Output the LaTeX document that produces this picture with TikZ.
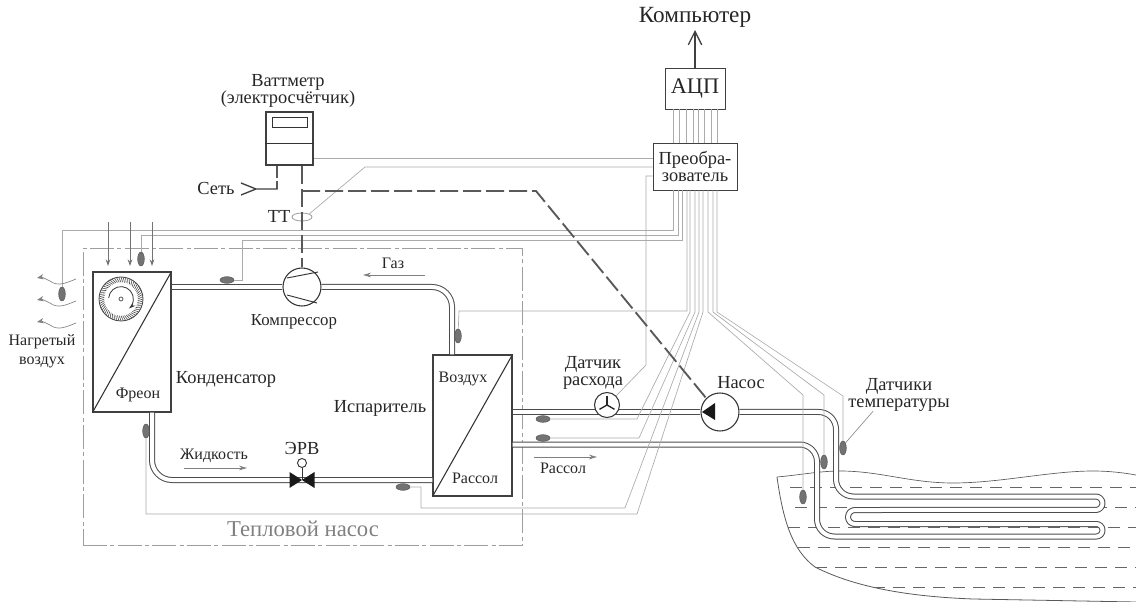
\documentclass[tikz,border=0pt]{standalone}
\usepackage{fontspec}
\setmainfont{Liberation Serif}
\usetikzlibrary{arrows.meta,shapes.geometric}
\tikzset{
  pipe/.style={draw=black!70,line width=0.75pt,double=white,double distance=3pt},
  wire/.style={draw=black!33,line width=0.5pt},
  power/.style={draw=black!65,line width=1.4pt,dash pattern=on 13.5pt off 3.75pt},
  sensorv/.style={ellipse,fill=black!55,draw=black!70,line width=0.3pt,minimum width=5pt,minimum height=10.5pt,inner sep=0pt},
  sensorh/.style={ellipse,fill=black!55,draw=black!70,line width=0.3pt,minimum width=10.5pt,minimum height=5pt,inner sep=0pt},
  box/.style={draw=black!75,line width=0.8pt,inner sep=0pt,align=center},
  disc/.style={circle,draw=black!80,line width=0.8pt,fill=white,inner sep=0pt},
  lab/.style={text=black!85,font=\fontsize{13.8}{12.75}\selectfont,align=center,inner sep=0pt},
  small/.style={text=black!85,font=\fontsize{12}{12.75}\selectfont,align=center,inner sep=0pt},
  flowarrow/.style={draw=black!50,line width=0.7pt,-{Stealth[length=6pt,width=3.5pt]}},
}
\begin{document}
\begin{tikzpicture}[x=0.75pt,y=-0.75pt]
\useasboundingbox (0,0) rectangle (1136,602);
% water
\draw[draw=black!65,line width=0.5pt] (777,477) .. controls (800,475) and (820,471) .. (840,471)
  .. controls (880,471) and (910,483) .. (953,483) .. controls (1000,483) and (1050,471) .. (1093,471)
  .. controls (1110,471) and (1125,473) .. (1136,475);
\draw[draw=black!65,line width=0.6pt] (777,477) .. controls (783,520) and (792,550) .. (815,567)
  .. controls (860,590) and (920,597) .. (973,599) -- (1136,602);
\foreach \x/\y in {790/487,795/507,788/527,798/547,815/567,873/587}
  \draw[draw=black!60,line width=0.6pt,dash pattern=on 9pt off 6pt] (\x,\y) -- (1136,\y);
% frame
\node[draw=black!38,line width=0.65pt,dash pattern=on 18pt off 2.5pt on 3pt off 2.5pt,minimum width=329.25pt,minimum height=222.75pt,inner sep=0pt] (hp) at (302.5,396.5) {};
\node[text=black!50,font=\fontsize{17}{16}\selectfont,inner sep=0pt] (hplab) at (303,529) {Тепловой насос};
% units
\node[box,minimum width=58.5pt,minimum height=105pt] (cond) at (132,342) {};
\node[box,minimum width=59.25pt,minimum height=105.75pt] (evap) at (472.5,425.5) {};
\node[box,minimum width=35.25pt,minimum height=39.75pt] (watt) at (289.5,138.5) {};
\node[box,line width=0.7pt,minimum width=45pt,minimum height=30.75pt,font=\fontsize{16.7}{16}\selectfont,text=black!85] (adc) at (695,88.5) {АЦП};
\node[box,line width=0.7pt,minimum width=63pt,minimum height=35.25pt,font=\fontsize{13.8}{12.75}\selectfont,text=black!85] (conv) at (695,166.5) {Преобра-\\зователь};
\node[disc,minimum size=28.5pt] (comp) at (302,287) {};
\node[disc,minimum size=28.5pt] (pump) at (720,412) {};
\coordinate (valve) at (302,480);
\draw[draw=black!80,line width=0.8pt] (cond.south west) -- (cond.north east);
\draw[draw=black!80,line width=0.8pt] (evap.south west) -- (evap.north east);
\draw[draw=black!80,line width=0.7pt] (watt.west |- 0,143) -- (watt.east |- 0,143);
\draw[draw=black!80,line width=0.7pt] (272,117) rectangle (307,127);
% pipes
\draw[pipe] (cond.east |- comp) -- (comp.west);
\draw[pipe,rounded corners=15pt] (comp.east) -- (452,287) -- (452,0 |- evap.north);
\draw[pipe,rounded corners=15pt] (152,0 |- cond.south) -- (152,480) -- (evap.west |- valve);
\draw[pipe] (evap.east |- pump) -- (pump.west);
\draw[pipe,line join=round] (pump.east) [rounded corners=13pt] -- (836,412) -- (836,496.5) [sharp corners] -- (1095.75,496.5)
  arc[start angle=90,end angle=-90,radius=5.06pt] -- (855,510)
  arc[start angle=90,end angle=270,radius=5.25pt] -- (1096.25,524)
  arc[start angle=90,end angle=-90,radius=4.7pt] [rounded corners=13pt] -- (817,536.5) -- (817,444.5) -- (evap.east |- 0,444.5);
% compressor, pump, valve, flow meter
\draw[draw=black!80,line width=0.7pt] (287,278) -- (318,272) (287,295) -- (317,303);
\fill[black!90] (702,412) -- (715,403) -- (715,420) -- cycle;
\fill[black!90] (valve) -- (289.5,472) -- (289.5,488) -- (314.5,472) -- (314.5,488) -- cycle;
\node[disc,line width=0.7pt,minimum size=6.75pt] (valvetop) at (302,463) {};
\draw[draw=black!80,line width=0.7pt] (valve) -- (valvetop);
\node[disc,minimum size=18.75pt] (flow) at (607,405) {};
\foreach \a in {90,210,330} \draw[draw=black!85,line width=1pt] (flow.center) -- ++(\a:6.5pt);
% fan
\node[circle,draw=black!75,line width=0.6pt,minimum size=33pt,inner sep=0pt] (fan) at (121,299) {};
\foreach \a in {0,6,...,354} \draw[draw=black!70,line width=0.45pt] (fan) ++(\a:12.6pt) -- ++(\a+25:4pt);
\draw[draw=black!80,line width=0.6pt,-{Stealth[length=5pt,width=3pt]}] (fan) ++(175:9.3pt) arc[start angle=175,end angle=-50,radius=9.3pt];
\node[circle,draw=black!75,line width=0.5pt,minimum size=3pt,inner sep=0pt] (fanhub) at (fan) {};
% sensors
\node[sensorv] (sair) at (62,294) {};
\node[sensorv] (sin) at (141,259) {};
\node[sensorh] (scomp) at (227,280) {};
\node[sensorv] (sgas) at (458,336) {};
\node[sensorv] (sliq) at (146,431) {};
\node[sensorh] (sevap) at (403,487) {};
\node[sensorh] (sout) at (543,419) {};
\node[sensorh] (sret) at (543,438) {};
\node[sensorv] (sg1) at (803,497) {};
\node[sensorv] (sg2) at (824,462) {};
\node[sensorv] (sg3) at (843,448) {};
\node[draw=black!40,ellipse,line width=0.6pt,minimum width=15pt,minimum height=6pt,inner sep=0pt] (tt) at (302,217) {};
% wires
\foreach \x in {673,679,686,693,698,704,711,717} \draw[wire] (adc.south -| \x,0) -- (conv.north -| \x,0);
\foreach \n/\x in {1/673,2/678,3/682,4/687,5/690,6/695,7/699,8/703,9/708,10/713,11/717} \coordinate (b\n) at (conv.south -| \x,0);
\draw[wire] (b1) -- (673,230) -- (62,230) -- (sair);
\draw[wire] (b2) -- (678,235) -- (141,235) -- (sin);
\draw[wire] (b3) -- (682,240) -- (242,240) -- (242,280) -- (scomp);
\draw[wire] (b4) -- (687,311) -- (459,311) -- (sgas);
\draw[wire] (b5) -- (690,312) -- (637,419) -- (sout);
\draw[wire] (b6) -- (695,312) -- (639,438) -- (sret);
\draw[wire] (b7) -- (699,312) -- (625,508) -- (421,508) -- (421,487) -- (sevap);
\draw[wire] (b8) -- (703,312) -- (637,514) -- (146,514) -- (sliq);
\draw[wire] (b9) -- (708,312) -- (803,395) -- (sg1);
\draw[wire] (b10) -- (713,312) -- (824,395) -- (sg2);
\draw[wire] (b11) -- (717,312) -- (843,396) -- (sg3);
\coordinate (cw1) at (conv.west |- 0,158);
\coordinate (cw2) at (conv.west |- 0,167);
\coordinate (cw3) at (conv.west |- 0,176);
\draw[wire] (cw1) -- (cw1 -| watt.east);
\draw[wire] (cw2) -- (365,167) -- (tt.north east);
\draw[wire] (cw3) -- (646,176) -- (646,365) -- (flow.45);
% power
\coordinate (mains) at (256,189);
\draw[power,dash pattern=on 9pt off 2.5pt] (watt.south -| 277,0) -- (277,189);
\draw[draw=black!75,line width=1pt] (241,183) -- (mains) -- (241,195) (mains) -- (277.5,189);
\draw[power] (watt.south -| 302,0) -- (comp.north);
\draw[power] (302,191) -- (536,191) -- (pump.north west);
\draw[draw=black!75,line width=1pt,-{Straight Barb[length=10pt,width=10pt]}] (adc.north) -- (695,30);
% air
\foreach \x in {108,130,152} \draw[draw=black!55,line width=0.7pt,-{Stealth[length=5pt,width=3.5pt]}] (\x,222) -- (\x,266);
\foreach \y in {279,301,323} \draw[draw=black!50,line width=0.5pt,-{Stealth[length=5pt,width=4pt]}] (76,\y) .. controls (66,\y+4) and (58,\y+8) .. (50,\y+2) .. controls (46,\y) and (42,\y-2) .. (37,\y-1);
% text
\node[lab,font=\fontsize{17.4}{16}\selectfont] (pc) at (695,17) {Компьютер};
\node[lab] (wattlab) at (288,90.5) {Ваттметр\\(электросчётчик)};
\node[lab] (mainslab) at (216,189) {Сеть};
\node[lab] (ttlab) at (279,216) {ТТ};
\node[small] (gas) at (393,263) {Газ};
\coordinate (gasa) at (425,275);
\coordinate (gasb) at (363,275);
\draw[flowarrow] (gasa) -- (gasb);
\node[lab,font=\fontsize{12.6}{12.75}\selectfont] (complab) at (294,322) {Компрессор};
\node[lab,font=\fontsize{12}{14}\selectfont] (airlab) at (42,351.5) {Нагретый\\воздух};
\node[lab] (condlab) at (226,379) {Конденсатор};
\node[small] (freon) at (138,395) {Фреон};
\node[lab] (evaplab) at (380,408) {Испаритель};
\node[small] (evair) at (463,379) {Воздух};
\node[small] (evbr) at (475,478) {Рассол};
\node[lab] (flowlab) at (593,373) {Датчик\\расхода};
\node[lab] (pumplab) at (741,383) {Насос};
\node[lab] (tlab) at (899,394.5) {Датчики\\температуры};
\node[lab] (erv) at (302,448) {ЭРВ};
\node[small] (liq) at (214,456) {Жидкость};
\coordinate (liqa) at (184,468);
\coordinate (liqb) at (247,468);
\draw[flowarrow] (liqa) -- (liqb);
\node[small] (brine) at (563,468) {Рассол};
\coordinate (brinea) at (534,457);
\coordinate (brineb) at (597,457);
\draw[flowarrow] (brinea) -- (brineb);
\draw[draw=black!45,line width=0.5pt] (tlab.south) ++(-26,0) -- (sg3.north east);
\end{tikzpicture}
\end{document}
